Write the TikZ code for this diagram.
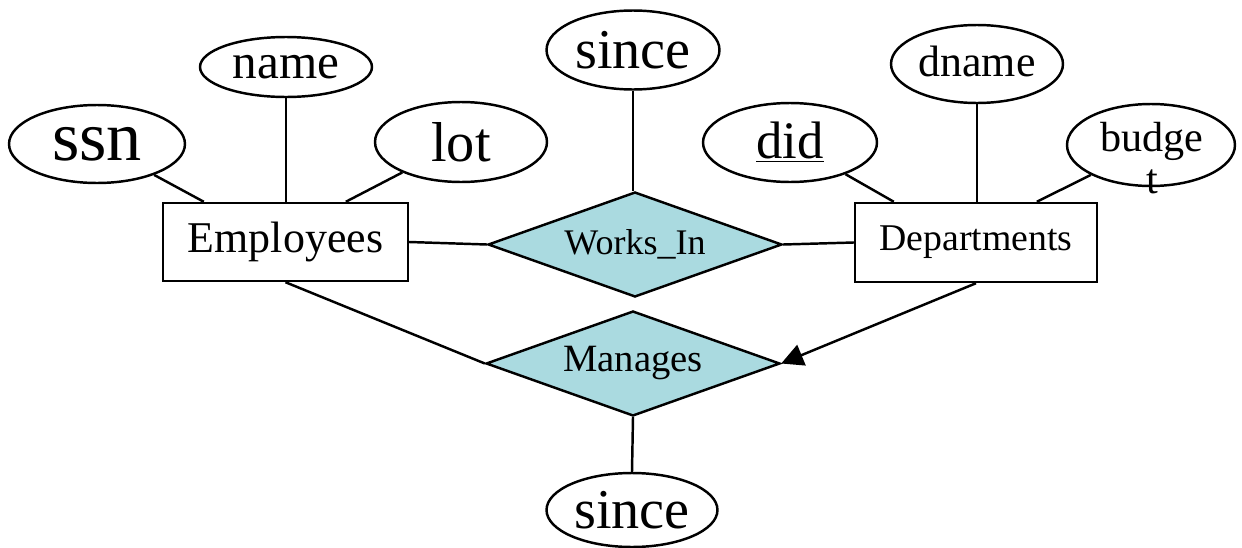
\documentclass[tikz,border=0pt]{standalone}
\usepackage{fontspec}
\setmainfont{Liberation Serif}
\usetikzlibrary{shapes.geometric,arrows.meta,calc}
\definecolor{relfill}{RGB}{170,218,224}
\tikzset{
  attr/.style={draw, ellipse, inner sep=0pt, line width=1.4pt},
  entity/.style={draw, rectangle, inner sep=0pt, line width=1.4pt,
    minimum width=4.9cm, minimum height=1.56cm},
  relation/.style={draw, diamond, aspect=2.8, inner sep=0pt, line width=1.4pt,
    fill=relfill, minimum width=5.88cm, minimum height=2.1cm},
  link/.style={line width=1.4pt},
}
\newcommand{\fs}[1]{\fontsize{#1}{#1}\selectfont}
% key attribute: text with a heavier rule set a little below it
\newcommand{\keyattr}[1]{\begin{tabular}[b]{@{}c@{}}#1\\[-8pt]\rule{\widthof{#1}}{1.6pt}\end{tabular}}
\usepackage{calc}
\begin{document}
\begin{tikzpicture}[x=0.02cm, y=-0.02cm]
\useasboundingbox (0,0) rectangle (1242,548);

% entities
\node[entity, font=\fs{25pt}] (emp) at (285.5,242) {Employees};
\node[entity, font=\fs{21.5pt}, minimum width=4.84cm, minimum height=1.58cm] (dept) at (976,242.5) {Departments};

% relationships
\node[relation, font=\fs{20.5pt}] (wi) at (635,244.5) {Works\_In};
\node[relation, font=\fs{22pt}] (man) at (633,363.5) {Manages};

% attributes of Employees
\node[attr, minimum width=3.52cm, minimum height=1.56cm, font=\fs{40pt}] (ssn) at (97,144) {ssn};
\node[attr, minimum width=3.44cm, minimum height=1.2cm, font=\fs{28pt}] (name) at (286,67) {name};
\node[attr, minimum width=3.44cm, minimum height=1.6cm, font=\fs{32pt}] (lot) at (461,142) {lot};

% attribute of Works_In
\node[attr, minimum width=3.46cm, minimum height=1.58cm, font=\fs{32pt}] (since1) at (633,50) {since};

% attributes of Departments
\node[attr, minimum width=3.48cm, minimum height=1.58cm, font=\fs{30pt}] (did) at (790,142.5) {\underline{did}};
\node[attr, minimum width=3.44cm, minimum height=1.56cm, font=\fs{25pt}] (dname) at (977,64) {\raisebox{3pt}{dname}};
\node[attr, minimum width=3.36cm, minimum height=1.64cm] (budget) at (1151,145) {};
\node[align=center, font=\fontsize{24pt}{24pt}\selectfont, inner sep=0pt] (budgettext) at (1152,158) {budge\\t};

% attribute of Manages
\node[attr, minimum width=3.42cm, minimum height=1.48cm, font=\fs{32pt}] (since2) at (632,510) {since};

% attachment points on the entity boxes
\coordinate (emp-ssn) at ($(emp.north west)+(42,0)$);
\coordinate (emp-lot) at ($(emp.north west)+(184,0)$);
\coordinate (dept-did) at ($(dept.north west)+(40,0)$);
\coordinate (dept-budget) at ($(dept.north west)+(183,0)$);

% attribute links
\draw[link] (ssn) -- (emp-ssn);
\draw[link] (name.south) -- (name.south |- emp.north);
\draw[link] (lot) -- (emp-lot);
\draw[link] (since1.south) -- (since1.south |- wi.north);
\draw[link] (did) -- (dept-did);
\draw[link] (dname.south) -- (dname.south |- dept.north);
\draw[link] (budget) -- (dept-budget);
\draw[link] (man.south) -- (since2.north);

% relationship links
\draw[link] (emp.east) -- (wi.west);
\draw[link] (wi.east) -- (dept.west);
\draw[link] (emp.south) -- (man.west);
\draw[link, -{Triangle[length=12.5pt, width=12.5pt]}] (dept.south) -- (man.east);
\end{tikzpicture}
\end{document}
